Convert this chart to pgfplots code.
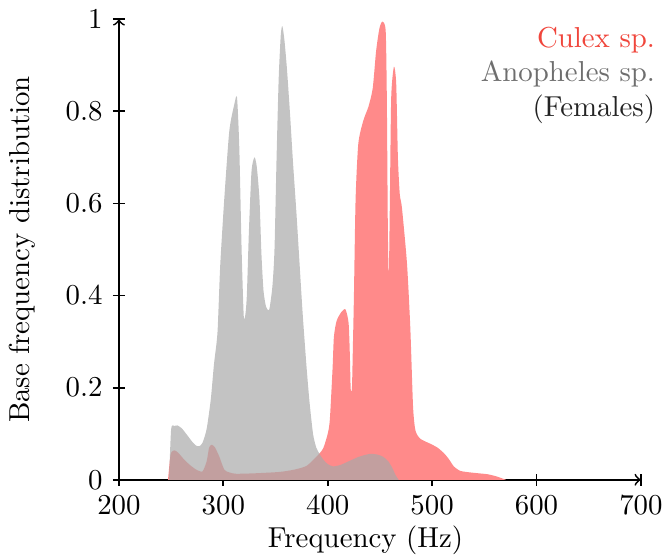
\documentclass[border=0pt]{standalone}
\usepackage{pgfplots}
\pgfplotsset{compat=1.18}
\definecolor{culexfill}{RGB}{255,138,138}
\definecolor{anofill}{RGB}{169,169,169}
\definecolor{culextext}{RGB}{240,70,60}
\definecolor{anotext}{RGB}{110,110,110}
\definecolor{femtext}{RGB}{35,35,35}
\begin{document}
\begin{tikzpicture}
\begin{axis}[
  scale only axis,
  width=181pt, height=159.7pt,
  axis lines=left,
  axis line style={semithick,->},
  tick style={semithick,black},
  xmin=200, xmax=700, ymin=0, ymax=1,
  xtick={200,300,400,500,600,700},
  ytick={0,0.2,0.4,0.6,0.8,1},
  yticklabels={0,0.2,0.4,0.6,0.8,1},
  xticklabel style={inner xsep=0.5pt},
  xlabel={Frequency (Hz)},
  xlabel style={inner ysep=1pt, xshift=-5pt},
  xlabel shift=-0.5pt,
  ylabel={Base frequency distribution},
  ylabel shift=3.5pt,
  clip=false,
]
\addplot[draw=none, fill=culexfill, smooth, tension=0.4] coordinates {
(247,0) (249.5,0.055) (253,0.064) (257,0.058) (262,0.045) (268,0.032) (274,0.022) (280,0.018)
(284,0.04) (286.4,0.07) (289,0.076) (292,0.07) (296,0.051) (300.9,0.022) (305.7,0.016)
(312,0.013) (330,0.014) (354,0.017) (368,0.022) (379.6,0.03) (389.2,0.05) (395.6,0.068)
(400,0.1) (402,0.13) (404.6,0.24) (405.9,0.31) (408.5,0.345) (413,0.364) (417,0.37)
(420,0.34) (421.2,0.27) (422,0.197) (423.2,0.2) (424.2,0.3) (425.1,0.4) (426.7,0.61)
(429.3,0.73) (434.1,0.78) (439,0.81) (443.1,0.85) (446.3,0.93) (449.5,0.98) (452.4,0.995)
(455.5,0.975) (456.6,0.83) (457.6,0.54) (458.5,0.44) (459.5,0.6) (460.8,0.83) (463.4,0.897)
(465.6,0.86) (467.2,0.7) (469,0.62) (471.1,0.59) (475.9,0.47) (479.1,0.33) (481.7,0.16)
(484,0.107) (488.7,0.089) (498.4,0.078) (505,0.07) (511.2,0.058) (516,0.045) (520.8,0.029)
(527.3,0.019) (540.1,0.015) (553,0.012) (562,0.007) (570.6,0)
} \closedcycle;
\addplot[draw=none, fill=anofill, fill opacity=0.7, smooth, tension=0.4] coordinates {
(248,0) (250,0.11) (253,0.117) (256,0.118) (260,0.112) (265,0.098) (270,0.083) (274,0.074)
(277,0.073) (280,0.08) (284,0.11) (288,0.175) (291,0.25) (294.4,0.32) (297,0.465) (300.9,0.61)
(305.7,0.757) (310.5,0.815) (313.1,0.83) (315.3,0.72) (317.5,0.5) (319.5,0.357) (321,0.357)
(322.5,0.4) (324.5,0.54) (327,0.67) (329.8,0.70) (332,0.68) (334.6,0.61) (336.5,0.49)
(338.5,0.41) (341,0.375) (344,0.37) (347,0.42) (349,0.5) (351,0.7) (353,0.87) (355,0.965)
(356.5,0.985) (358.5,0.955) (361,0.89) (364,0.79) (366.7,0.69) (370,0.58) (373.1,0.466)
(376,0.36) (379.6,0.248) (382.5,0.17) (385.9,0.10) (389,0.07) (392.4,0.055) (396,0.043)
(400,0.034) (405,0.029) (412,0.032) (420,0.04) (430,0.05) (440,0.056) (447,0.055)
(453,0.05) (458,0.04) (462,0.025) (465,0.01) (467.9,0)
} \closedcycle;
\node[anchor=north east, align=right, inner sep=0pt] at (axis cs:714,0.985)
  {\textcolor{culextext}{Culex sp.}\\ \textcolor{anotext}{Anopheles sp.}\\ \textcolor{femtext}{(Females)}};
\end{axis}
\end{tikzpicture}
\end{document}
